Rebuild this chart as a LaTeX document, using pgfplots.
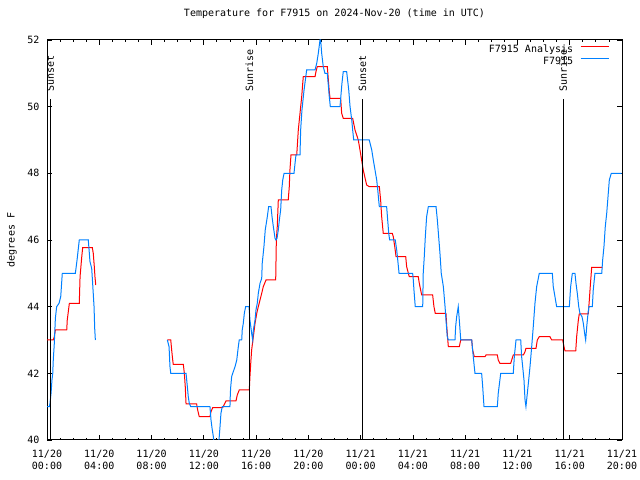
\documentclass[border=0pt]{standalone}
\usepackage{fontspec}
\setmainfont{DejaVu Sans Mono}
\usepackage{pgfplots}
\pgfplotsset{compat=1.18}
\definecolor{obsblue}{RGB}{0,128,255}
\definecolor{anared}{RGB}{255,0,0}
\begin{document}
\fontsize{10bp}{12bp}\selectfont
\begin{tikzpicture}
\useasboundingbox (-47bp,-40bp) rectangle (593bp,440bp);
\begin{axis}[
  scale only axis, width=575bp, height=400bp,
  at={(0,0)}, anchor=south west,
  xmin=0, xmax=44, ymin=40, ymax=52,
  xtick={0,4,...,44},
  xticklabels={{11/20\\00:00},{11/20\\04:00},{11/20\\08:00},{11/20\\12:00},{11/20\\16:00},{11/20\\20:00},{11/21\\00:00},{11/21\\04:00},{11/21\\08:00},{11/21\\12:00},{11/21\\16:00},{11/21\\20:00}},
  minor x tick num=3,
  ytick={40,42,...,52},
  major tick length=5bp, minor tick length=2.5bp,
  tick style={black, line width=0.8bp},
  axis line style={black, line width=1bp},
  /pgf/number format/assume math mode=true,
  font=\fontsize{10bp}{12bp}\selectfont,
  xticklabel style={align=center, inner sep=0pt, yshift=-10bp},
  yticklabel style={inner sep=0pt, xshift=-7.5bp},
  title={Temperature for F7915 on 2024-Nov-20 (time in UTC)},
  title style={at={(axis description cs:0.5,1.05)}, anchor=center, inner sep=0pt},
  ylabel={degrees F},
  ylabel style={at={(axis description cs:-0.0609,0.5)}, anchor=center, inner sep=0pt},
  legend plot pos=right, legend cell align=right,
  legend image code/.code={\draw[#1] (0bp,3.2bp) -- (28bp,3.2bp);},
  legend style={draw=none, fill=none, at={(axis description cs:0.978,0.9875)}, anchor=north east, inner sep=0pt, row sep=1.6bp, column sep=7bp, nodes={inner sep=0pt, text height=7.5bp, text depth=2.5bp}},
  unbounded coords=jump,
]
\addplot[anared, line width=1bp] coordinates {
(0.00,43.0) (0.48,43.0) (0.56,43.1) (0.64,43.3) (1.51,43.3) (1.55,43.6) (1.71,44.1) (2.47,44.1) (2.53,44.9) (2.66,45.5) (2.73,45.77) (3.47,45.77) (3.54,45.6) (3.62,45.2) (3.67,44.9) (3.73,44.65)
(6,nan)
(9.21,43.0) (9.47,43.0) (9.54,42.7) (9.62,42.4) (9.66,42.27) (10.43,42.27) (10.51,42.0) (10.58,41.6) (10.64,41.08) (11.45,41.08) (11.53,40.9) (11.65,40.7) (12.47,40.7) (12.55,40.85) (12.68,40.97) (13.44,40.97) (13.54,41.05) (13.70,41.17) (14.46,41.17) (14.56,41.35) (14.71,41.5) (15.48,41.5) (15.53,41.9) (15.59,42.3) (15.66,42.7) (15.79,43.1) (15.92,43.5) (16.05,43.8) (16.17,44.0) (16.30,44.2) (16.43,44.4) (16.55,44.6) (16.76,44.8) (17.50,44.8) (17.55,46.0) (17.62,46.4) (17.70,47.2) (18.46,47.2) (18.54,47.6) (18.59,48.1) (18.67,48.55) (19.11,48.55) (19.23,49.3) (19.36,49.8) (19.49,50.3) (19.61,50.9) (20.51,50.9) (20.58,51.05) (20.68,51.2) (21.45,51.2) (21.53,50.8) (21.60,50.45) (21.66,50.25) (22.47,50.25) (22.55,49.8) (22.67,49.65) (23.39,49.65) (23.57,49.3) (23.82,49.0) (23.95,48.7) (24.20,48.1) (24.46,47.65) (24.66,47.6) (25.43,47.6) (25.53,47.2) (25.61,46.7) (25.73,46.2) (26.42,46.2) (26.50,46.1) (26.61,45.8) (26.71,45.5) (27.45,45.5) (27.52,45.2) (27.72,44.9) (28.41,44.9) (28.49,44.7) (28.67,44.35) (29.51,44.35) (29.61,44.0) (29.71,43.8) (30.53,43.8) (30.59,43.4) (30.71,42.8) (31.55,42.8) (31.66,43.0) (32.50,43.0) (32.57,42.7) (32.70,42.5) (33.52,42.5) (33.59,42.55) (34.46,42.55) (34.53,42.4) (34.66,42.3) (35.48,42.3) (35.56,42.4) (35.68,42.55) (36.45,42.55) (36.58,42.65) (36.65,42.75) (37.42,42.75) (37.52,43.0) (37.67,43.1) (38.49,43.1) (38.62,43.0) (39.46,43.0) (39.56,42.8) (39.64,42.67) (40.46,42.67) (40.53,43.1) (40.66,43.6) (40.73,43.78) (41.42,43.78) (41.50,44.2) (41.57,44.6) (41.68,45.18) (42.49,45.18)
};
\addlegendentry{F7915 Analysis}
\addplot[obsblue, line width=1bp] coordinates {
(0.00,41.0) (0.18,41.0) (0.23,41.1) (0.31,41.4) (0.38,41.8) (0.44,42.0) (0.48,42.4) (0.56,42.9) (0.64,43.65) (0.74,44.0) (0.92,44.1) (1.05,44.3) (1.17,45.0) (2.17,45.0) (2.30,45.4) (2.47,46.0) (3.16,46.0) (3.29,45.35) (3.42,45.15) (3.50,44.65) (3.60,44.0) (3.65,43.35) (3.70,43.0)
(6,nan)
(9.21,43.0) (9.34,42.8) (9.41,42.2) (9.47,42.0) (10.64,42.0) (10.74,41.6) (10.81,41.3) (10.89,41.1) (11.00,41.0) (12.47,41.0) (12.55,40.6) (12.63,40.35) (12.73,40.1) (12.82,39.7) (13.08,39.7) (13.18,40.1) (13.24,40.4) (13.31,40.8) (13.41,41.0) (14.00,41.0) (14.03,41.4) (14.06,41.6) (14.13,41.9) (14.21,42.0) (14.39,42.2) (14.52,42.4) (14.64,42.8) (14.71,43.0) (14.90,43.0) (14.94,43.3) (15.02,43.5) (15.10,43.8) (15.20,44.0) (15.46,44.0) (15.53,43.6) (15.66,43.2) (15.74,43.0) (15.79,43.3) (15.92,43.6) (15.99,43.9) (16.09,44.1) (16.17,44.4) (16.30,44.7) (16.43,44.85) (16.47,45.3) (16.60,45.8) (16.70,46.3) (16.86,46.7) (16.96,47.0) (17.14,47.0) (17.22,46.7) (17.32,46.4) (17.45,46.05) (17.52,46.0) (17.60,46.05) (17.70,46.3) (17.78,46.6) (17.88,46.9) (17.96,47.5) (18.04,47.8) (18.14,48.0) (18.90,48.0) (18.98,48.3) (19.05,48.55) (19.36,48.55) (19.41,49.3) (19.51,49.9) (19.67,50.5) (19.87,51.1) (20.51,51.1) (20.64,51.3) (20.76,51.6) (20.89,52.0) (20.94,52.0) (21.02,51.6) (21.14,51.2) (21.27,51.0) (21.45,51.0) (21.60,50.3) (21.68,50.0) (22.42,50.0) (22.57,50.7) (22.67,51.05) (22.93,51.05) (23.09,50.5) (23.19,50.0) (23.32,49.6) (23.39,49.3) (23.47,49.0) (24.66,49.0) (24.85,48.7) (24.97,48.4) (25.23,47.8) (25.31,47.5) (25.38,47.2) (25.43,47.0) (25.99,47.0) (26.15,46.2) (26.22,46.0) (26.65,46.0) (26.76,45.7) (26.84,45.4) (26.94,45.0) (27.98,45.0) (28.03,44.8) (28.08,44.5) (28.18,44.0) (28.75,44.0) (28.79,45.0) (28.87,45.5) (28.95,46.1) (29.05,46.7) (29.18,47.0) (29.77,47.0) (29.87,46.6) (29.97,46.1) (30.07,45.6) (30.17,45.0) (30.33,44.6) (30.46,44.0) (30.53,43.6) (30.63,43.1) (30.71,43.0) (31.22,43.0) (31.27,43.4) (31.35,43.7) (31.47,44.0) (31.55,43.6) (31.66,43.0) (32.50,43.0) (32.57,42.7) (32.67,42.3) (32.75,42.0) (33.26,42.0) (33.34,41.6) (33.44,41.0) (34.46,41.0) (34.53,41.4) (34.72,42.0) (35.68,42.0) (35.76,42.5) (35.89,43.0) (36.25,43.0) (36.32,42.5) (36.40,42.2) (36.50,41.8) (36.58,41.2) (36.65,41.0) (36.86,41.8) (36.96,42.2) (37.09,42.8) (37.21,43.4) (37.34,44.1) (37.47,44.6) (37.67,45.0) (38.67,45.0) (38.74,44.6) (38.87,44.3) (39.00,44.0) (39.97,44.0) (40.07,44.6) (40.20,45.0) (40.40,45.0) (40.48,44.7) (40.58,44.4) (40.69,44.0) (40.78,43.8) (40.94,43.7) (41.04,43.5) (41.14,43.2) (41.22,43.0) (41.30,43.4) (41.40,43.8) (41.47,44.0) (41.73,44.0) (41.80,44.5) (41.93,45.0) (42.45,45.0) (42.52,45.4) (42.62,45.8) (42.72,46.4) (42.83,46.8) (42.95,47.4) (43.03,47.8) (43.18,48.0) (43.98,48.0)
};
\addlegendentry{F7915}
\addplot[black, line width=1bp, forget plot] coordinates {(0.25,40) (0.25,50.22)};
\addplot[black, line width=1bp, forget plot] coordinates {(15.48,40) (15.48,50.22)};
\addplot[black, line width=1bp, forget plot] coordinates {(24.15,40) (24.15,50.22)};
\addplot[black, line width=1bp, forget plot] coordinates {(39.50,40) (39.50,50.22)};
\node[rotate=90, anchor=west, inner sep=0pt] at (axis cs:0.25,50.45) {Sunset};
\node[rotate=90, anchor=west, inner sep=0pt] at (axis cs:15.48,50.45) {Sunrise};
\node[rotate=90, anchor=west, inner sep=0pt] at (axis cs:24.15,50.45) {Sunset};
\node[rotate=90, anchor=west, inner sep=0pt] at (axis cs:39.50,50.45) {Sunrise};
\end{axis}
\end{tikzpicture}
\end{document}
